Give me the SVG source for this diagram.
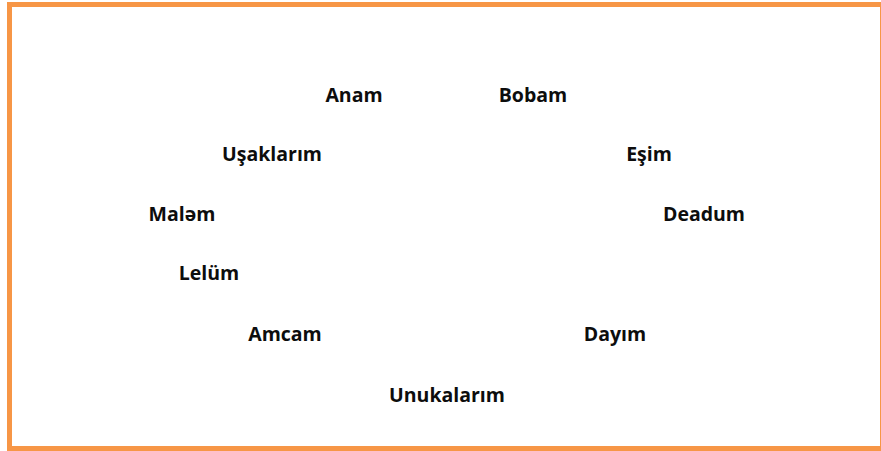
<svg xmlns="http://www.w3.org/2000/svg" width="881" height="451" viewBox="0 0 881 451">
<style>
.t{font-family:"Open Sans","Liberation Sans",sans-serif;font-weight:700;font-size:19.5px;fill:#0d0d0d;text-anchor:middle}
</style>
<rect x="0" y="0" width="881" height="451" fill="#ffffff"/>
<rect x="9.5" y="4.5" width="873" height="444" fill="none" stroke="#f79646" stroke-width="5"/>
<g id="nodes">
<g id="anam"><text class="t" x="354" y="102">Anam</text></g>
<g id="bobam"><text class="t" x="533" y="102">Bobam</text></g>
<g id="usaklarim"><text class="t" x="272" y="161">Uşaklarım</text></g>
<g id="esim"><text class="t" x="649" y="161">Eşim</text></g>
<g id="malem"><text class="t" x="182" y="221">Maləm</text></g>
<g id="deadum"><text class="t" x="704" y="221">Deadum</text></g>
<g id="lelum"><text class="t" x="209" y="280">Lelüm</text></g>
<g id="amcam"><text class="t" x="285" y="341">Amcam</text></g>
<g id="dayim"><text class="t" x="615" y="341">Dayım</text></g>
<g id="unukalarim"><text class="t" x="447" y="402">Unukalarım</text></g>
</g>
<g id="connectors"></g>
</svg>
